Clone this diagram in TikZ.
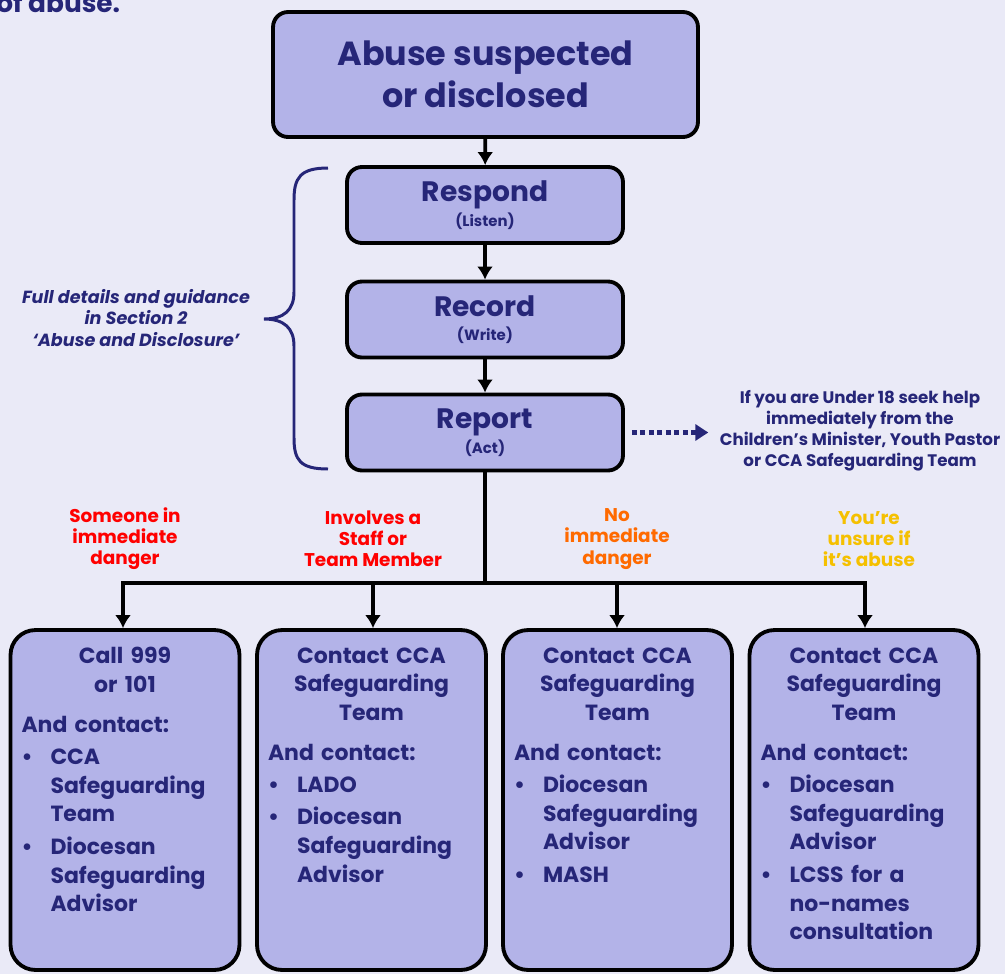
\documentclass[tikz,border=0pt]{standalone}
\usepackage{fontspec}
\setmainfont{Poppins}
\usepackage{tikz}
\usetikzlibrary{arrows.meta}

\definecolor{bgcol}{RGB}{234,234,247}
\definecolor{boxcol}{RGB}{179,179,232}
\definecolor{navy}{RGB}{38,38,120}
\definecolor{dangerred}{RGB}{255,0,0}
\definecolor{warnorange}{RGB}{255,106,0}
\definecolor{unsureyellow}{RGB}{245,192,0}

\newcommand{\bul}[1]{\par\vspace{2pt}{\leftskip=0.58cm\noindent\llap{\makebox[0.58cm][l]{\textbullet}}#1\par}}
\newcommand{\sublabel}[1]{\\[-5pt]{\fontsize{8.5}{10}\selectfont #1}}

\tikzset{
  stage/.style={draw=black, line width=2.2pt, fill=boxcol, rounded corners=0.3cm, text=navy,
    font=\bfseries\fontsize{16}{19}\selectfont, align=center, minimum width=5.52cm, minimum height=1.52cm},
  option/.style={draw=black, line width=2.2pt, fill=boxcol, rounded corners=0.5cm,
    minimum width=4.58cm, minimum height=6.8cm},
  optext/.style={text=navy, font=\bfseries\fontsize{12.5}{16.4}\selectfont, text width=4.14cm,
    align=left, anchor=north, inner sep=0pt},
  flow/.style={black, line width=2.2pt, -{Latex[length=0.26cm,width=0.32cm]}},
  cond/.style={font=\bfseries\fontsize{10.5}{12}\selectfont, align=center},
  note/.style={text=navy, font=\bfseries\fontsize{9.5}{12}\selectfont, align=center},
}

\begin{document}
\begin{tikzpicture}[x=0.02cm, y=-0.02cm]
  \fill[bgcol] (0,0) rectangle (1005,974);
  \useasboundingbox (0,0) rectangle (1005,974);

  \node[anchor=base west, text=navy, font=\bfseries\fontsize{15}{18}\selectfont, inner sep=0pt] (intro) at (-4,12) {of abuse.};

  % main steps
  \node[stage, minimum width=8.5cm, minimum height=2.5cm, font=\bfseries\fontsize{19}{24}\selectfont] (abuse) at (485.5,74.5) {Abuse suspected\\or disclosed};
  \node[stage] (respond) at (485,205) {Respond\sublabel{(Listen)}};
  \node[stage] (record) at (485,319.5) {Record\sublabel{(Write)}};
  \node[stage] (report) at (485,432.5) {Report\sublabel{(Act)}};

  \draw[flow] (abuse) -- (respond);
  \draw[flow] (respond) -- (record);
  \draw[flow] (record) -- (report);

  % brace and side notes
  \draw[navy, line width=1.7pt] (328,168) .. controls (300,168) and (294,178) .. (294,200) -- (294,292)
    .. controls (294,310) and (284,319) .. (264,319) .. controls (284,319) and (294,328) .. (294,346)
    -- (294,438) .. controls (294,460) and (300,469) .. (328,469);
  \node[note, font=\bfseries\itshape\fontsize{10}{12.5}\selectfont] (details) at (136,318) {Full details and guidance\\in Section 2\\‘Abuse and Disclosure’};

  \node[note] (under18) at (860,431) {If you are Under 18 seek help\\immediately from the\\Children's Minister, Youth Pastor\\or CCA Safeguarding Team};
  \draw[navy, line width=2.8pt, dash pattern=on 1mm off 0.7mm, -{Triangle[length=0.26cm,width=0.32cm]}, shorten <=4pt, shorten >=3pt] (report.east) -- (under18.west |- report.east);

  % branches
  \coordinate (j1) at (123,583);
  \coordinate (j2) at (373,583);
  \coordinate (j3) at (617,583);
  \coordinate (j4) at (865,583);
  \draw[black, line width=2.2pt] (report.south) -- (report.south |- j1);
  \draw[black, line width=2.2pt] ([xshift=-1.1pt]j1) -- ([xshift=1.1pt]j4);

  \node[cond, text=dangerred] (c1) at (125,539) {Someone in\\immediate\\danger};
  \node[cond, text=dangerred] (c2) at (373,539) {Involves a\\Staff or\\Team Member};
  \node[cond, text=warnorange] (c3) at (617,539) {No\\immediate\\danger};
  \node[cond, text=unsureyellow] (c4) at (869,539) {You're\\unsure if\\it's abuse};

  \node[option] (police) at (125,800) {};
  \node[option] (staff) at (371.5,800) {};
  \node[option] (noDanger) at (617.5,800) {};
  \node[option] (unsure) at (864,800) {};

  \draw[flow] (j1) -- (j1 |- police.north);
  \draw[flow] (j2) -- (j2 |- staff.north);
  \draw[flow] (j3) -- (j3 |- noDanger.north);
  \draw[flow] (j4) -- (j4 |- unsure.north);

  \node[optext] (policeText) at ([yshift=-0.38cm]police.north) {{\centering Call 999\\or 101\par}\vspace{6pt}
    And contact:\bul{CCA\\Safeguarding\\Team}\bul{Diocesan\\Safeguarding\\Advisor}};
  \node[optext] (staffText) at ([yshift=-0.38cm]staff.north) {{\centering Contact CCA\\Safeguarding\\Team\par}\vspace{6pt}
    And contact:\bul{LADO}\bul{Diocesan\\Safeguarding\\Advisor}};
  \node[optext] (noDangerText) at ([yshift=-0.38cm]noDanger.north) {{\centering Contact CCA\\Safeguarding\\Team\par}\vspace{6pt}
    And contact:\bul{Diocesan\\Safeguarding\\Advisor}\bul{MASH}};
  \node[optext] (unsureText) at ([yshift=-0.38cm]unsure.north) {{\centering Contact CCA\\Safeguarding\\Team\par}\vspace{6pt}
    And contact:\bul{Diocesan\\Safeguarding\\Advisor}\bul{LCSS for a\\no-names\\consultation}};
\end{tikzpicture}
\end{document}
